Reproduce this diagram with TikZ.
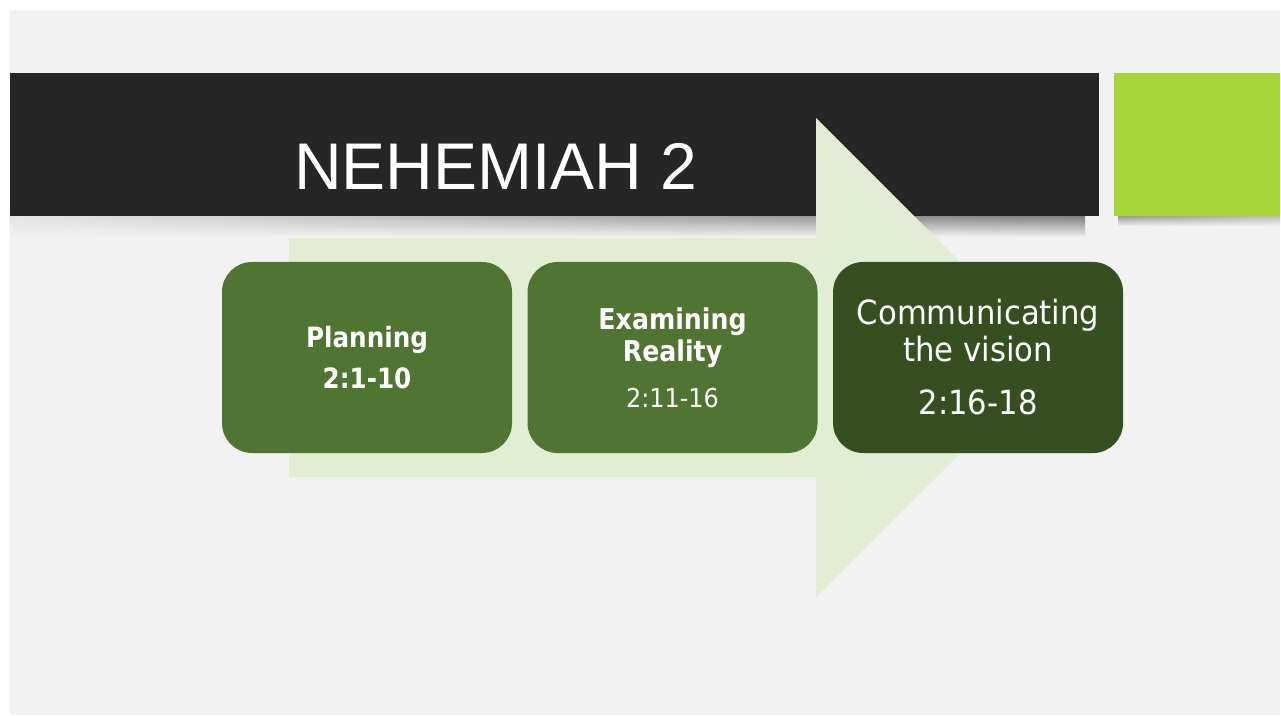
\documentclass[tikz,border=0pt]{standalone}
\usepackage{fontspec}
\setmainfont{DejaVu Sans}[FakeStretch=0.92, BoldFeatures={FakeStretch=0.88}]
\newfontfamily\titlefont{Liberation Sans}
\usetikzlibrary{positioning,fadings}
\definecolor{slidegray}{HTML}{F2F2F2}
\definecolor{barblack}{HTML}{262626}
\definecolor{lime}{HTML}{A6D638}
\definecolor{paleleaf}{HTML}{E1EED3}
\definecolor{leaf}{HTML}{507432}
\definecolor{darkleaf}{HTML}{364F21}
\tikzset{%
stage/.style={rounded corners=22.5pt, fill=leaf, text=white, inner sep=0pt,
              minimum width=217.5pt, minimum height=143.25pt, align=center},
laststage/.style={stage, fill=darkleaf},
bandshadow/.style={path fading=south},
}

\begin{document}
\begin{tikzpicture}[x=0.75pt, y=-0.75pt]

\useasboundingbox (0,0) rectangle (1281,716);
\fill[white] (0,0) rectangle (1281,716);
\fill[slidegray] (10,10) rectangle (1280,715);

\shade[bandshadow, left color=black!10, right color=black!50] (10,216) rectangle (1087,237);
\shade[bandshadow, left color=black!40, right color=black!25] (1118,216) rectangle (1280,226);
\fill[barblack] (10,73) rectangle (1099,216);
\fill[lime] (1114,73) rectangle (1280,216);

\node[text=white, anchor=base, font=\titlefont\fontsize{49.5}{50}\selectfont]
      (title) at (496,190) {NEHEMIAH 2};

\fill[paleleaf] (289,238) -- (816,238) -- (816,118) -- (1056,357.5)
                -- (816,597) -- (816,477) -- (289,477) -- cycle;

\node[stage, font=\fontsize{21}{30.75}\selectfont\bfseries]
      (plan) at (367,357.5) {Planning\\2:1-10};
\node[stage, right=11.25pt of plan, font=\fontsize{21.5}{24}\selectfont\bfseries]
      (examine) {Examining\\Reality\\[10.5pt]{\mdseries\fontsize{19.5}{24}\selectfont 2:11-16}};
\node[laststage, right=11.25pt of examine, font=\fontsize{25}{27.75}\selectfont]
      (vision) {Communicating\\the vision\\[12pt]2:16-18};

\end{tikzpicture}
\end{document}
